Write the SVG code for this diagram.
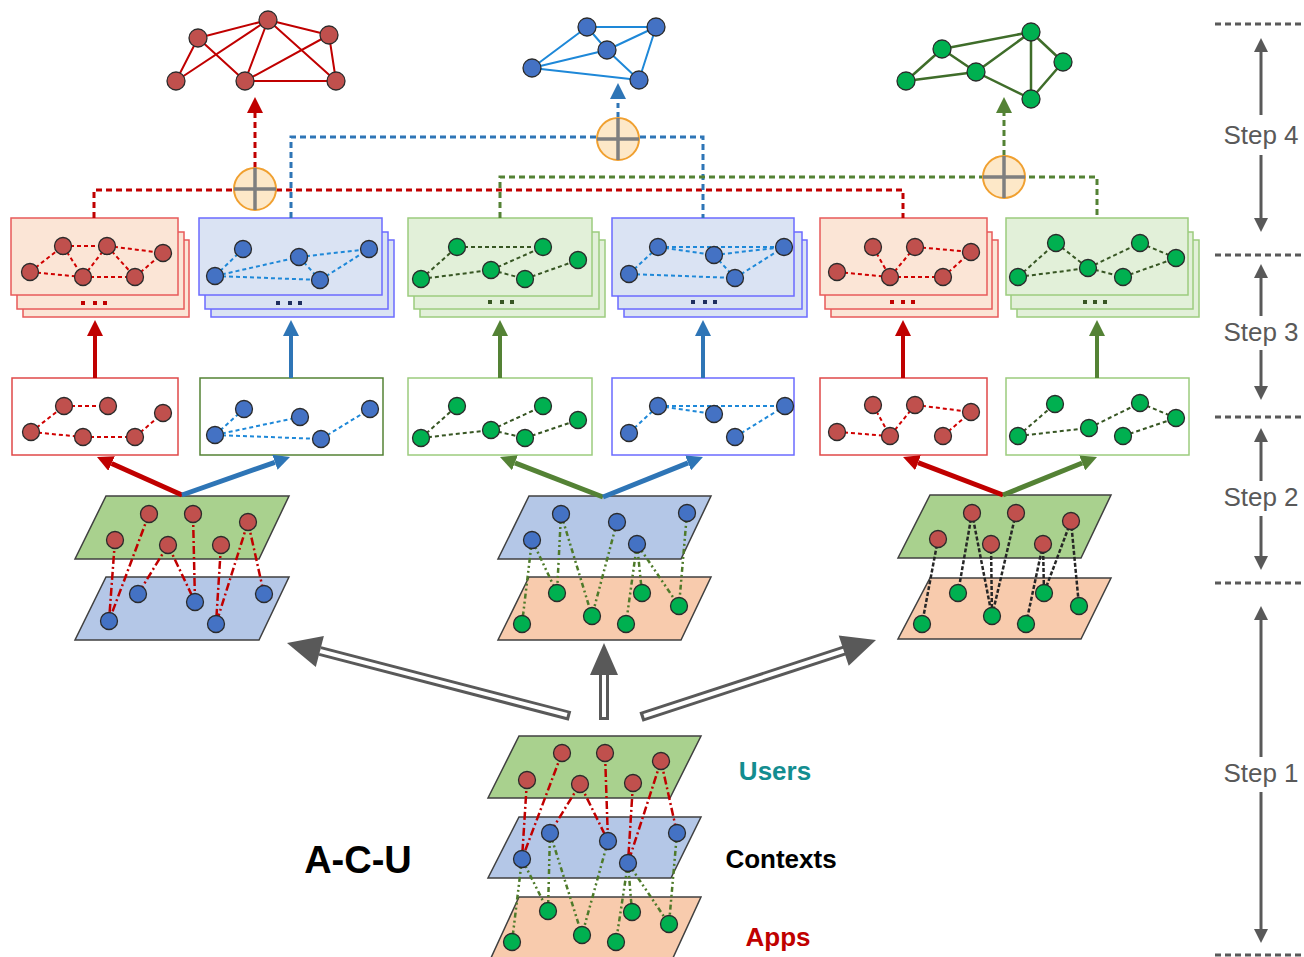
<svg xmlns="http://www.w3.org/2000/svg" width="1304" height="957" viewBox="0 0 1304 957">
<style>
.nr{fill:#c0504d;stroke:#2b2b2b;stroke-width:1.3}
.nb{fill:#4472c4;stroke:#2b2b2b;stroke-width:1.3}
.ng{fill:#00b050;stroke:#2b2b2b;stroke-width:1.3}
.sr{stroke:#c00000;stroke-width:2;fill:none}
.sb{stroke:#1e88d8;stroke-width:2;fill:none}
.sg{stroke:#3f6d2a;stroke-width:2.5;fill:none}
.dr{stroke:#d00000;stroke-width:2;stroke-dasharray:4 3;fill:none}
.db{stroke:#1e88d8;stroke-width:2;stroke-dasharray:4 3;fill:none}
.dg{stroke:#375623;stroke-width:2;stroke-dasharray:4 3;fill:none}
.br{fill:#fbe5d6;stroke:#e85a5a;stroke-width:1.5}
.bb{fill:#dae3f3;stroke:#6b6bff;stroke-width:1.5}
.bg{fill:#e2f0d9;stroke:#9ccc7e;stroke-width:1.5}
.pg{fill:#a9d18e;stroke:#404040;stroke-width:1.5}
.pb{fill:#b4c7e7;stroke:#404040;stroke-width:1.5}
.po{fill:#f8cbad;stroke:#404040;stroke-width:1.5}
.lr{stroke:#c00000;stroke-width:2.5;stroke-dasharray:8 3 2 3;fill:none}
.lg{stroke:#4e7a2a;stroke-width:2.5;stroke-dasharray:5 3 2 3 2 3;fill:none}
.lk{stroke:#262626;stroke-width:2.5;stroke-dasharray:4 2;fill:none}
.step{font-family:"Liberation Sans",Arial,sans-serif;font-size:26px;fill:#595959;text-anchor:middle}
.sep{stroke:#595959;stroke-width:3;stroke-dasharray:6 4}
.sa{stroke:#595959;stroke-width:3;fill:none}
.lab{font-family:"Liberation Sans",Arial,sans-serif;font-size:26px;font-weight:bold;text-anchor:middle}
.plus{fill:#fde8c8;stroke:#f0a030;stroke-width:2}
.cross{stroke:#7f7f7f;stroke-width:3.5}
</style>
<defs>
<marker id="mR" viewBox="0 0 10 10" refX="0" refY="5" markerWidth="16" markerHeight="16" markerUnits="userSpaceOnUse" orient="auto"><path d="M0,0 L10,5 L0,10 z" fill="#c00000"/></marker>
<marker id="mB" viewBox="0 0 10 10" refX="0" refY="5" markerWidth="16" markerHeight="16" markerUnits="userSpaceOnUse" orient="auto"><path d="M0,0 L10,5 L0,10 z" fill="#2e75b6"/></marker>
<marker id="mG" viewBox="0 0 10 10" refX="0" refY="5" markerWidth="16" markerHeight="16" markerUnits="userSpaceOnUse" orient="auto"><path d="M0,0 L10,5 L0,10 z" fill="#548235"/></marker>
<marker id="mK" viewBox="0 0 10 10" refX="0" refY="5" markerWidth="14" markerHeight="14" markerUnits="userSpaceOnUse" orient="auto"><path d="M0,0 L10,5 L0,10 z" fill="#595959"/></marker>
</defs>
<rect width="1304" height="957" fill="#fff"/>

<!-- Step column -->
<g id="steps">
<line class="sep" x1="1215" y1="24" x2="1304" y2="24"/>
<line class="sep" x1="1215" y1="255" x2="1304" y2="255"/>
<line class="sep" x1="1215" y1="417" x2="1304" y2="417"/>
<line class="sep" x1="1215" y1="583" x2="1304" y2="583"/>
<line class="sep" x1="1215" y1="955" x2="1304" y2="955"/>
<path class="sa" d="M1261,115 V52" marker-end="url(#mK)"/>
<path class="sa" d="M1261,155 V218" marker-end="url(#mK)"/>
<text class="step" x="1261" y="144">Step 4</text>
<path class="sa" d="M1261,316 V278" marker-end="url(#mK)"/>
<path class="sa" d="M1261,350 V386" marker-end="url(#mK)"/>
<text class="step" x="1261" y="341">Step 3</text>
<path class="sa" d="M1261,481 V442" marker-end="url(#mK)"/>
<path class="sa" d="M1261,516 V556" marker-end="url(#mK)"/>
<text class="step" x="1261" y="506">Step 2</text>
<path class="sa" d="M1261,757 V620" marker-end="url(#mK)"/>
<path class="sa" d="M1261,792 V929" marker-end="url(#mK)"/>
<text class="step" x="1261" y="782">Step 1</text>
</g>

<!-- Top graphs -->
<g id="top-red">
<path class="sr" d="M268,20 L198,38 M268,20 L329,35 M268,20 L176,81 M268,20 L245,81 M268,20 L336,81 M198,38 L176,81 M198,38 L245,81 M329,35 L245,81 M329,35 L336,81 M245,81 L336,81"/>
<circle class="nr" cx="268" cy="20" r="9"/><circle class="nr" cx="198" cy="38" r="9"/><circle class="nr" cx="329" cy="35" r="9"/>
<circle class="nr" cx="176" cy="81" r="9"/><circle class="nr" cx="245" cy="81" r="9"/><circle class="nr" cx="336" cy="81" r="9"/>
</g>
<g id="top-blue">
<path class="sb" d="M587,27 L656,27 M587,27 L607,50 M587,27 L532,68 M532,68 L607,50 M532,68 L639,80 M656,27 L607,50 M656,27 L639,80 M607,50 L639,80"/>
<circle class="nb" cx="587" cy="27" r="9"/><circle class="nb" cx="656" cy="27" r="9"/><circle class="nb" cx="607" cy="50" r="9"/>
<circle class="nb" cx="532" cy="68" r="9"/><circle class="nb" cx="639" cy="80" r="9"/>
</g>
<g id="top-green">
<path class="sg" d="M906,81 L942,49 M906,81 L976,72 M942,49 L976,72 M976,72 L1031,32 M942,49 L1031,32 M976,72 L1031,99 M1031,32 L1031,99 M1031,32 L1063,62 M1063,62 L1031,99"/>
<circle class="ng" cx="906" cy="81" r="9"/><circle class="ng" cx="942" cy="49" r="9"/><circle class="ng" cx="976" cy="72" r="9"/>
<circle class="ng" cx="1031" cy="32" r="9"/><circle class="ng" cx="1063" cy="62" r="9"/><circle class="ng" cx="1031" cy="99" r="9"/>
</g>

<!-- Step 3 stacks -->
<g id="s3-red1">
<rect class="br" x="23" y="240" width="166" height="77"/><rect class="br" x="17" y="232" width="167" height="77"/><rect class="br" x="11" y="218" width="167" height="77"/>
<path class="dr" d="M30,272 L63,246 M30,272 L83,277 M63,246 L107,246 M63,246 L83,277 M107,246 L83,277 M107,246 L135,277 M107,246 L163,253 M83,277 L135,277 M135,277 L163,253"/>
<circle class="nr" cx="30" cy="272" r="8.5"/><circle class="nr" cx="63" cy="246" r="8.5"/><circle class="nr" cx="107" cy="246" r="8.5"/><circle class="nr" cx="163" cy="253" r="8.5"/><circle class="nr" cx="83" cy="277" r="8.5"/><circle class="nr" cx="135" cy="277" r="8.5"/>
<g fill="#c00000"><rect x="81" y="301" width="4" height="4"/><rect x="93" y="301" width="4" height="4"/><rect x="103" y="301" width="4" height="4"/></g>
</g>
<g id="s3-blue1">
<rect class="bb" x="211" y="240" width="183" height="77"/><rect class="bb" x="205" y="232" width="183" height="77"/><rect class="bb" x="199" y="218" width="183" height="77"/>
<path class="db" d="M215,276 L243,249 M215,276 L299,257 M215,276 L320,280 M299,257 L369,249 M299,257 L320,280 M320,280 L369,249"/>
<circle class="nb" cx="243" cy="249" r="8.5"/><circle class="nb" cx="215" cy="276" r="8.5"/><circle class="nb" cx="299" cy="257" r="8.5"/><circle class="nb" cx="320" cy="280" r="8.5"/><circle class="nb" cx="369" cy="249" r="8.5"/>
<g fill="#1f2f5f"><rect x="276" y="301" width="4" height="4"/><rect x="288" y="301" width="4" height="4"/><rect x="298" y="301" width="4" height="4"/></g>
</g>
<g id="s3-green1">
<rect class="bg" x="420" y="240" width="185" height="77"/><rect class="bg" x="414" y="232" width="185" height="77"/><rect class="bg" x="408" y="218" width="184" height="78"/>
<path class="dg" d="M421,279 L457,247 M421,279 L491,270 M457,247 L543,247 M491,270 L543,247 M491,270 L525,279 M525,279 L578,260"/>
<circle class="ng" cx="421" cy="279" r="8.5"/><circle class="ng" cx="457" cy="247" r="8.5"/><circle class="ng" cx="543" cy="247" r="8.5"/><circle class="ng" cx="578" cy="260" r="8.5"/><circle class="ng" cx="491" cy="270" r="8.5"/><circle class="ng" cx="525" cy="279" r="8.5"/>
<g fill="#375623"><rect x="488" y="300" width="4" height="4"/><rect x="500" y="300" width="4" height="4"/><rect x="510" y="300" width="4" height="4"/></g>
</g>
<g id="s3-blue2">
<rect class="bb" x="624" y="240" width="183" height="77"/><rect class="bb" x="618" y="232" width="184" height="77"/><rect class="bb" x="612" y="218" width="182" height="78"/>
<path class="db" d="M629,274 L658,247 M629,274 L735,278 M658,247 L714,255 M658,247 L784,247 M714,255 L784,247 M714,255 L735,278 M735,278 L784,247"/>
<circle class="nb" cx="629" cy="274" r="8.5"/><circle class="nb" cx="658" cy="247" r="8.5"/><circle class="nb" cx="714" cy="255" r="8.5"/><circle class="nb" cx="735" cy="278" r="8.5"/><circle class="nb" cx="784" cy="247" r="8.5"/>
<g fill="#1f2f5f"><rect x="691" y="300" width="4" height="4"/><rect x="703" y="300" width="4" height="4"/><rect x="713" y="300" width="4" height="4"/></g>
</g>
<g id="s3-red2">
<rect class="br" x="831" y="240" width="167" height="77"/><rect class="br" x="825" y="232" width="167" height="77"/><rect class="br" x="820" y="218" width="167" height="77"/>
<path class="dr" d="M837,272 L890,277 M873,247 L890,277 M915,247 L890,277 M915,247 L971,252 M890,277 L943,277 M943,277 L971,252"/>
<circle class="nr" cx="837" cy="272" r="8.5"/><circle class="nr" cx="873" cy="247" r="8.5"/><circle class="nr" cx="915" cy="247" r="8.5"/><circle class="nr" cx="971" cy="252" r="8.5"/><circle class="nr" cx="890" cy="277" r="8.5"/><circle class="nr" cx="943" cy="277" r="8.5"/>
<g fill="#c00000"><rect x="890" y="300" width="4" height="4"/><rect x="901" y="300" width="4" height="4"/><rect x="911" y="300" width="4" height="4"/></g>
</g>
<g id="s3-green2">
<rect class="bg" x="1017" y="240" width="182" height="77"/><rect class="bg" x="1011" y="232" width="182" height="77"/><rect class="bg" x="1006" y="218" width="182" height="77"/>
<path class="dg" d="M1018,277 L1056,243 M1018,277 L1088,268 M1056,243 L1088,268 M1088,268 L1140,243 M1088,268 L1123,277 M1140,243 L1176,258 M1123,277 L1176,258"/>
<circle class="ng" cx="1018" cy="277" r="8.5"/><circle class="ng" cx="1056" cy="243" r="8.5"/><circle class="ng" cx="1088" cy="268" r="8.5"/><circle class="ng" cx="1140" cy="243" r="8.5"/><circle class="ng" cx="1123" cy="277" r="8.5"/><circle class="ng" cx="1176" cy="258" r="8.5"/>
<g fill="#375623"><rect x="1083" y="300" width="4" height="4"/><rect x="1093" y="300" width="4" height="4"/><rect x="1103" y="300" width="4" height="4"/></g>
</g>

<!-- Step 2 boxes -->
<g id="s2-red1">
<rect x="12" y="378" width="166" height="77" fill="#fff" stroke="#e04848" stroke-width="1.5"/>
<path class="dr" d="M31,432 L64,406 M31,432 L83,437 M64,406 L108,406 M83,437 L135,437 M135,437 L163,413"/>
<circle class="nr" cx="31" cy="432" r="8.5"/><circle class="nr" cx="64" cy="406" r="8.5"/><circle class="nr" cx="108" cy="406" r="8.5"/><circle class="nr" cx="163" cy="413" r="8.5"/><circle class="nr" cx="83" cy="437" r="8.5"/><circle class="nr" cx="135" cy="437" r="8.5"/>
</g>
<g id="s2-blue1">
<rect x="200" y="378" width="183" height="77" fill="#fff" stroke="#548235" stroke-width="1.5"/>
<path class="db" d="M215,435 L244,409 M215,435 L300,417 M215,435 L321,439 M321,439 L370,409"/>
<circle class="nb" cx="215" cy="435" r="8.5"/><circle class="nb" cx="244" cy="409" r="8.5"/><circle class="nb" cx="300" cy="417" r="8.5"/><circle class="nb" cx="321" cy="439" r="8.5"/><circle class="nb" cx="370" cy="409" r="8.5"/>
</g>
<g id="s2-green1">
<rect x="408" y="378" width="184" height="77" fill="#fff" stroke="#9ccc7e" stroke-width="1.5"/>
<path class="dg" d="M421,438 L457,406 M421,438 L491,430 M491,430 L543,406 M491,430 L525,438 M525,438 L578,420"/>
<circle class="ng" cx="421" cy="438" r="8.5"/><circle class="ng" cx="457" cy="406" r="8.5"/><circle class="ng" cx="543" cy="406" r="8.5"/><circle class="ng" cx="578" cy="420" r="8.5"/><circle class="ng" cx="491" cy="430" r="8.5"/><circle class="ng" cx="525" cy="438" r="8.5"/>
</g>
<g id="s2-blue2">
<rect x="612" y="378" width="182" height="77" fill="#fff" stroke="#6b6bff" stroke-width="1.5"/>
<path class="db" d="M629,433 L658,406 M658,406 L714,414 M658,406 L785,406 M735,437 L785,406"/>
<circle class="nb" cx="629" cy="433" r="8.5"/><circle class="nb" cx="658" cy="406" r="8.5"/><circle class="nb" cx="714" cy="414" r="8.5"/><circle class="nb" cx="735" cy="437" r="8.5"/><circle class="nb" cx="785" cy="406" r="8.5"/>
</g>
<g id="s2-red2">
<rect x="820" y="378" width="167" height="77" fill="#fff" stroke="#e04848" stroke-width="1.5"/>
<path class="dr" d="M837,432 L890,436 M873,405 L890,436 M915,405 L890,436 M915,405 L971,412 M943,436 L971,412"/>
<circle class="nr" cx="837" cy="432" r="8.5"/><circle class="nr" cx="873" cy="405" r="8.5"/><circle class="nr" cx="915" cy="405" r="8.5"/><circle class="nr" cx="971" cy="412" r="8.5"/><circle class="nr" cx="890" cy="436" r="8.5"/><circle class="nr" cx="943" cy="436" r="8.5"/>
</g>
<g id="s2-green2">
<rect x="1006" y="378" width="183" height="77" fill="#fff" stroke="#9ccc7e" stroke-width="1.5"/>
<path class="dg" d="M1018,436 L1055,404 M1018,436 L1089,428 M1089,428 L1140,403 M1140,403 L1176,418 M1123,436 L1176,418"/>
<circle class="ng" cx="1018" cy="436" r="8.5"/><circle class="ng" cx="1055" cy="404" r="8.5"/><circle class="ng" cx="1089" cy="428" r="8.5"/><circle class="ng" cx="1140" cy="403" r="8.5"/><circle class="ng" cx="1123" cy="436" r="8.5"/><circle class="ng" cx="1176" cy="418" r="8.5"/>
</g>

<!-- Bipartite layers (step 1 outputs) -->
<g id="layer-left">
<polygon class="pg" points="106,496 289,496 259,559 75,559"/>
<polygon class="pb" points="106,577 289,577 259,640 75,640"/>
<path class="lr" d="M115,540 L109,621 M149,514 L109,621 M168,545 L138,594 M168,545 L195,602 M193,514 L195,602 M221,545 L216,624 M248,522 L216,624 M248,522 L264,594"/>
<circle class="nr" cx="149" cy="514" r="8.5"/><circle class="nr" cx="193" cy="514" r="8.5"/><circle class="nr" cx="248" cy="522" r="8.5"/><circle class="nr" cx="115" cy="540" r="8.5"/><circle class="nr" cx="168" cy="545" r="8.5"/><circle class="nr" cx="221" cy="545" r="8.5"/>
<circle class="nb" cx="138" cy="594" r="8.5"/><circle class="nb" cx="195" cy="602" r="8.5"/><circle class="nb" cx="264" cy="594" r="8.5"/><circle class="nb" cx="109" cy="621" r="8.5"/><circle class="nb" cx="216" cy="624" r="8.5"/>
</g>
<g id="layer-mid">
<polygon class="pb" points="529,496 711,496 681,559 498,559"/>
<polygon class="po" points="529,577 711,577 681,640 498,640"/>
<path class="lg" d="M532,540 L522,624 M532,540 L557,593 M561,514 L557,593 M561,514 L592,616 M617,522 L592,616 M637,544 L626,624 M637,544 L642,593 M637,544 L679,606 M687,513 L679,606"/>
<circle class="nb" cx="561" cy="514" r="8.5"/><circle class="nb" cx="617" cy="522" r="8.5"/><circle class="nb" cx="687" cy="513" r="8.5"/><circle class="nb" cx="532" cy="540" r="8.5"/><circle class="nb" cx="637" cy="544" r="8.5"/>
<circle class="ng" cx="557" cy="593" r="8.5"/><circle class="ng" cx="642" cy="593" r="8.5"/><circle class="ng" cx="679" cy="606" r="8.5"/><circle class="ng" cx="522" cy="624" r="8.5"/><circle class="ng" cx="592" cy="616" r="8.5"/><circle class="ng" cx="626" cy="624" r="8.5"/>
</g>
<g id="layer-right">
<polygon class="pg" points="930,495 1111,495 1081,558 898,558"/>
<polygon class="po" points="930,578 1111,578 1081,639 898,639"/>
<path class="lk" d="M938,539 L922,624 M972,513 L958,593 M972,513 L992,616 M991,544 L992,616 M1016,513 L992,616 M1043,544 L1026,624 M1043,544 L1044,593 M1071,521 L1044,593 M1071,521 L1079,606"/>
<circle class="nr" cx="972" cy="513" r="8.5"/><circle class="nr" cx="1016" cy="513" r="8.5"/><circle class="nr" cx="1071" cy="521" r="8.5"/><circle class="nr" cx="938" cy="539" r="8.5"/><circle class="nr" cx="991" cy="544" r="8.5"/><circle class="nr" cx="1043" cy="544" r="8.5"/>
<circle class="ng" cx="958" cy="593" r="8.5"/><circle class="ng" cx="1044" cy="593" r="8.5"/><circle class="ng" cx="1079" cy="606" r="8.5"/><circle class="ng" cx="922" cy="624" r="8.5"/><circle class="ng" cx="992" cy="616" r="8.5"/><circle class="ng" cx="1026" cy="624" r="8.5"/>
</g>

<!-- A-C-U tripartite -->
<g id="acu">
<polygon class="pg" points="519,736 701,736 670,798 488,798"/>
<polygon class="pb" points="519,817 701,817 671,878 488,878"/>
<polygon class="po" points="519,897 701,897 672,960 490,960"/>
<path class="lr" d="M527,780 L522,859 M562,753 L522,859 M580,784 L550,833 M580,784 L608,841 M605,753 L608,841 M633,783 L628,863 M661,761 L628,863 M661,761 L677,833"/>
<path class="lg" d="M522,859 L512,942 M522,859 L548,911 M550,833 L548,911 M550,833 L582,935 M608,841 L582,935 M628,863 L616,942 M628,863 L632,912 M628,863 L669,924 M677,833 L669,924"/>
<circle class="nr" cx="562" cy="753" r="8.5"/><circle class="nr" cx="605" cy="753" r="8.5"/><circle class="nr" cx="661" cy="761" r="8.5"/><circle class="nr" cx="527" cy="780" r="8.5"/><circle class="nr" cx="580" cy="784" r="8.5"/><circle class="nr" cx="633" cy="783" r="8.5"/>
<circle class="nb" cx="550" cy="833" r="8.5"/><circle class="nb" cx="608" cy="841" r="8.5"/><circle class="nb" cx="677" cy="833" r="8.5"/><circle class="nb" cx="522" cy="859" r="8.5"/><circle class="nb" cx="628" cy="863" r="8.5"/>
<circle class="ng" cx="548" cy="911" r="8.5"/><circle class="ng" cx="632" cy="912" r="8.5"/><circle class="ng" cx="669" cy="924" r="8.5"/><circle class="ng" cx="512" cy="942" r="8.5"/><circle class="ng" cx="582" cy="935" r="8.5"/><circle class="ng" cx="616" cy="942" r="8.5"/>
<text class="lab" x="775" y="780" fill="#138d90">Users</text>
<text class="lab" x="781" y="868" fill="#000">Contexts</text>
<text class="lab" x="778" y="946" fill="#c00000">Apps</text>
<text class="lab" x="358" y="873" fill="#000" style="font-size:38px">A-C-U</text>
</g>

<!-- Connectors -->
<g id="connectors">
<!-- big hollow arrows -->
<g stroke-linecap="butt">
<path d="M570,716 L320,651" stroke="#595959" stroke-width="10" fill="none"/>
<path d="M567,715 L320,651" stroke="#fff" stroke-width="4" fill="none"/>
<polygon points="287,643 323.9,636.1 315.8,667.1" fill="#595959"/>
<path d="M604,720 V673" stroke="#595959" stroke-width="10" fill="none"/>
<path d="M604,717 V673" stroke="#fff" stroke-width="4" fill="none"/>
<polygon points="604,643 590,675 618,675" fill="#595959"/>
<path d="M641,717 L846,650" stroke="#595959" stroke-width="10" fill="none"/>
<path d="M644,716 L846,650" stroke="#fff" stroke-width="4" fill="none"/>
<polygon points="876,640 838.7,635.4 848.7,665.8" fill="#595959"/>
</g>
<!-- step 2 diagonal arrows -->
<path d="M182,495 L111.6,463.5" stroke="#c00000" stroke-width="5" fill="none" marker-end="url(#mR)"/>
<path d="M182,495 L274.9,462.3" stroke="#2e75b6" stroke-width="5" fill="none" marker-end="url(#mB)"/>
<path d="M603,497 L514.9,462.8" stroke="#548235" stroke-width="5" fill="none" marker-end="url(#mG)"/>
<path d="M603,497 L688.1,462.9" stroke="#2e75b6" stroke-width="5" fill="none" marker-end="url(#mB)"/>
<path d="M1003,495 L918,462.7" stroke="#c00000" stroke-width="5" fill="none" marker-end="url(#mR)"/>
<path d="M1003,495 L1082.2,463" stroke="#548235" stroke-width="5" fill="none" marker-end="url(#mG)"/>
<!-- step 3 vertical arrows -->
<path d="M95,378 V336" stroke="#c00000" stroke-width="4" fill="none" marker-end="url(#mR)"/>
<path d="M291,378 V336" stroke="#2e75b6" stroke-width="4" fill="none" marker-end="url(#mB)"/>
<path d="M500,378 V336" stroke="#548235" stroke-width="4" fill="none" marker-end="url(#mG)"/>
<path d="M703,378 V336" stroke="#2e75b6" stroke-width="4" fill="none" marker-end="url(#mB)"/>
<path d="M903,378 V336" stroke="#c00000" stroke-width="4" fill="none" marker-end="url(#mR)"/>
<path d="M1097,378 V336" stroke="#548235" stroke-width="4" fill="none" marker-end="url(#mG)"/>
<!-- step 4 aggregation -->
<path d="M94,218 V190 H903 V218" stroke="#c00000" stroke-width="3" stroke-dasharray="6 4" fill="none"/>
<path d="M291,218 V137 H703 V218" stroke="#2e75b6" stroke-width="3" stroke-dasharray="6 4" fill="none"/>
<path d="M500,218 V177 H1097 V218" stroke="#548235" stroke-width="3" stroke-dasharray="6 4" fill="none"/>
<path d="M255,168 V113" stroke="#c00000" stroke-width="3" stroke-dasharray="6 4" fill="none" marker-end="url(#mR)"/>
<path d="M618,117 V99" stroke="#2e75b6" stroke-width="3" stroke-dasharray="5 4" fill="none" marker-end="url(#mB)"/>
<path d="M1004,156 V113" stroke="#548235" stroke-width="3" stroke-dasharray="6 4" fill="none" marker-end="url(#mG)"/>
</g>

<g id="sum-red"><circle class="plus" cx="255" cy="189" r="21"/><path class="cross" d="M234,189 H276 M255,168 V210"/></g>
<g id="sum-blue"><circle class="plus" cx="618" cy="139" r="21"/><path class="cross" d="M597,139 H639 M618,118 V160"/></g>
<g id="sum-green"><circle class="plus" cx="1004" cy="177" r="21"/><path class="cross" d="M983,177 H1025 M1004,156 V198"/></g>
</svg>
